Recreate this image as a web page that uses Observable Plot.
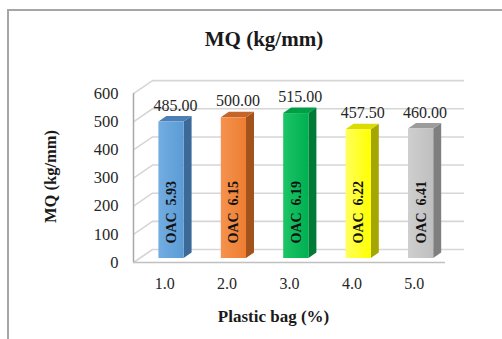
<!DOCTYPE html>
<html>
<head>
<meta charset="utf-8">
<script src="https://cdn.jsdelivr.net/npm/d3@7"></script>
<script src="https://cdn.jsdelivr.net/npm/@observablehq/plot@0.6"></script>
<style>
  body { margin: 0; background: #fff; }
  #chart { position: relative; width: 502px; height: 339px; overflow: hidden; background: #fff; }
  #frame { position: absolute; left: 7px; top: 9px; width: 600px; height: 400px; border: 2px solid #a6a6a6; box-sizing: border-box; }
  #title { position: absolute; left: 264px; top: 27px; transform: translateX(-50%); font: bold 21px "Liberation Serif", "Times New Roman", serif; line-height: 24px; white-space: nowrap; color: #1a1a1a; }
  #plot { position: absolute; left: 0; top: 60px; }
</style>
</head>
<body>
<div id="chart">
  <div id="frame"></div>
  <div id="title">MQ (kg/mm)</div>
  <div id="plot"></div>
</div>
<script>
// Marshall quotient per plastic bag content, with optimum asphalt content
const categories = ["1.0", "2.0", "3.0", "4.0", "5.0"];
const mq = [485.00, 500.00, 515.00, 457.50, 460.00];
const oac = [5.93, 6.15, 6.19, 6.22, 6.41];
const yTicks = [0, 100, 200, 300, 400, 500, 600];

// Column colours: front face, side face, top face
const palette = {
  front: ["#5b9bd5", "#ed7d31", "#00b050", "#ffff00", "#bfbfbf"],
  light: ["#72ade2", "#f4934f", "#1cc466", "#ffff5c", "#cfcfcf"],
  side:  ["#3c6a98", "#a2521d", "#007a37", "#a6a600", "#7f7f7f"],
  top:   ["#4b7fb5", "#c6652a", "#009d47", "#dcdc00", "#9c9c9c"]
};

// Oblique projection of the 3-D box (in data units)
const depthX = 0.3045, depthY = 46.2;   // back wall offset
const barX = 0.109, barY = 14.2;        // column front face, set back from the floor edge
const half = 0.202;                     // half column width
const sideX = 0.128, sideY = 19.5;      // column depth

const bars = categories.map((c, i) => ({k: i, pos: i + 1, cat: c, mq: mq[i], oac: oac[i]}));

const sidePts = bars.flatMap(d => [
  {k: d.k, x: d.pos + barX + half, y1: barY, y2: d.mq + barY},
  {k: d.k, x: d.pos + barX + half + sideX, y1: barY + sideY, y2: d.mq + barY + sideY}
]);
const topPts = bars.flatMap(d => [
  {k: d.k, y: d.mq + barY, x1: d.pos + barX - half, x2: d.pos + barX + half},
  {k: d.k, y: d.mq + barY + sideY, x1: d.pos + barX - half + sideX, x2: d.pos + barX + half + sideX}
]);
// floor shadow under each column, stretched towards the back right
const shadowPts = bars.flatMap(d => [
  {k: d.k, y: barY - 2, x1: d.pos + barX - half - 0.12, x2: d.pos + barX + half + 0.05},
  {k: d.k, y: barY + 7, x1: d.pos + barX - half + 0.05, x2: d.pos + barX + half + sideX + 0.22}
]);

const serif = '"Liberation Serif", "Times New Roman", serif';

const plot = Plot.plot({
  width: 502,
  height: 279,
  marginLeft: 133,
  marginRight: 57,
  marginTop: 5,
  marginBottom: 77,
  x: {domain: [0.5, 5.5]},
  y: {domain: [0, 700]},
  color: {type: "identity"},
  style: {fontFamily: serif, fontSize: "16px", color: "#262626", background: "transparent"},
  marks: [
    // back wall gridlines
    Plot.ruleY(yTicks, {y: d => d + depthY, x1: 0.5 + depthX, x2: 5.5 + depthX, stroke: "#d6d6d6", strokeWidth: 1.6}),
    // side wall gridlines
    Plot.link(yTicks, {x1: 0.5, y1: d => d, x2: 0.5 + depthX, y2: d => d + depthY, stroke: "#d6d6d6", strokeWidth: 1.6}),
    // front edges of the box
    Plot.ruleX([0.5], {y1: 0, y2: 600, stroke: "#a8a8a8", strokeWidth: 1.5}),
    Plot.ruleY([0], {x1: 0.5, x2: 5.5, stroke: "#c0c0c0", strokeWidth: 1.5}),
    // soft shadow at the foot of each column
    Plot.areaX(shadowPts, {y: "y", x1: "x1", x2: "x2", z: "k", fill: "#333", fillOpacity: 0.4, ariaLabel: "column-shadow"}),
    // columns
    Plot.areaY(sidePts, {x: "x", y1: "y1", y2: "y2", z: "k", fill: d => palette.side[d.k]}),
    Plot.areaX(topPts, {y: "y", x1: "x1", x2: "x2", z: "k", fill: d => palette.top[d.k]}),
    Plot.rect(bars, {
      x1: d => d.pos + barX - half, x2: d => d.pos + barX + half,
      y1: () => barY, y2: d => d.mq + barY,
      fill: d => `url(#front-${d.k})`
    }),
    // value labels
    Plot.text(bars, {
      x: d => d.pos + barX + sideX / 2, y: d => d.mq + barY + sideY,
      text: d => d.mq.toFixed(2), dy: -11, fontSize: 16, fill: "#262626"
    }),
    // optimum asphalt content inside each column
    Plot.text(bars, {
      x: d => d.pos + barX, y: () => barY,
      text: d => `OAC\u00a0\u00a0${d.oac.toFixed(2)}`,
      rotate: -90, textAnchor: "start", dy: -15,
      fontSize: 14, fontWeight: "bold", fill: "#111"
    }),
    // axes
    Plot.axisY(yTicks, {tickSize: 0, tickPadding: 15, fontSize: 16.5, label: null}),
    Plot.axisX(bars.map(d => d.pos), {tickSize: 0, tickPadding: 15, fontSize: 16, tickFormat: p => categories[p - 1], label: null}),
    // axis titles
    Plot.text(["MQ (kg/mm)"], {
      text: d => d, frameAnchor: "left", textAnchor: "middle", lineAnchor: "middle",
      rotate: -90, dx: -83, dy: 12.5, fontWeight: "bold", fontSize: 16.5, fill: "#1a1a1a"
    }),
    Plot.text(["Plastic bag (%)"], {
      text: d => d, frameAnchor: "bottom", textAnchor: "middle", lineAnchor: "middle",
      dx: -16, dy: 54, fontWeight: "bold", fontSize: 17, fill: "#1a1a1a"
    })
  ]
});

// lighting gradients for the column fronts
const defs = d3.select(plot).insert("defs", ":first-child");
palette.front.forEach((c, i) => {
  const g = defs.append("linearGradient").attr("id", `front-${i}`).attr("x1", 0).attr("x2", 1).attr("y1", 0).attr("y2", 0);
  g.append("stop").attr("offset", "0%").attr("stop-color", palette.light[i]);
  g.append("stop").attr("offset", "100%").attr("stop-color", c);
});

const shadow = plot.querySelector('[aria-label="column-shadow"]');
if (shadow) shadow.style.filter = "blur(2.5px)";

document.getElementById("plot").appendChild(plot);
</script>
</body>
</html>
